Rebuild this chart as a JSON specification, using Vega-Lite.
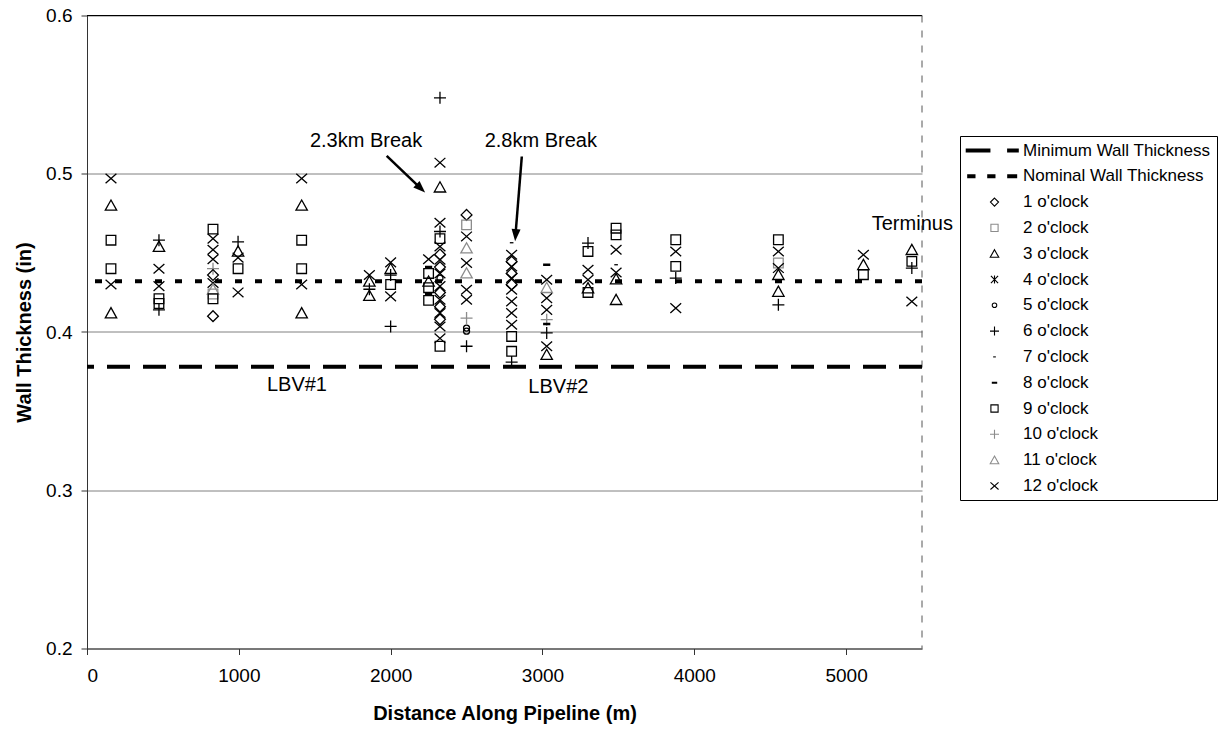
{
  "$schema": "https://vega.github.io/schema/vega-lite/v6.json",
  "width": 835,
  "height": 633,
  "autosize": {"type": "none"},
  "padding": {"left": 87, "top": 15.5, "right": 302, "bottom": 82.5},
  "background": "white",
  "config": {
    "view": {"stroke": null},
    "font": "Liberation Sans",
    "axis": {
      "labelFont": "Liberation Sans", "labelFontSize": 19, "labelColor": "#000",
      "titleFont": "Liberation Sans", "titleFontSize": 20, "titleFontWeight": "bold", "titleColor": "#000",
      "domainColor": "#333", "tickColor": "#333", "tickSize": 6
    },
    "legend": {
      "orient": "none", "legendX": 873, "legendY": 120.5,
      "strokeColor": "#000", "fillColor": "#fff", "padding": 6,
      "symbolOffset": 20, "labelOffset": 20,
      "labelFont": "Liberation Sans", "labelFontSize": 17, "labelColor": "#000",
      "symbolSize": 81, "symbolStrokeWidth": 1.1, "rowPadding": 7.8, "labelLimit": 400
    }
  },
  "datasets": {
    "pts": [
      {"d":158,"t":0.497,"c":"12 o'clock"},{"d":158,"t":0.480,"c":"3 o'clock"},{"d":158,"t":0.458,"c":"9 o'clock"},{"d":158,"t":0.440,"c":"9 o'clock"},{"d":158,"t":0.430,"c":"12 o'clock"},{"d":158,"t":0.412,"c":"3 o'clock"},
      {"d":474,"t":0.458,"c":"6 o'clock"},{"d":474,"t":0.454,"c":"3 o'clock"},{"d":474,"t":0.440,"c":"12 o'clock"},{"d":474,"t":0.429,"c":"12 o'clock"},{"d":474,"t":0.421,"c":"9 o'clock"},{"d":474,"t":0.418,"c":"9 o'clock"},{"d":474,"t":0.414,"c":"6 o'clock"},
      {"d":830,"t":0.465,"c":"9 o'clock"},{"d":830,"t":0.459,"c":"12 o'clock"},{"d":830,"t":0.452,"c":"12 o'clock"},{"d":830,"t":0.446,"c":"12 o'clock"},{"d":830,"t":0.440,"c":"10 o'clock"},{"d":830,"t":0.436,"c":"1 o'clock"},{"d":830,"t":0.431,"c":"12 o'clock"},{"d":830,"t":0.427,"c":"11 o'clock"},{"d":830,"t":0.424,"c":"2 o'clock"},{"d":830,"t":0.421,"c":"9 o'clock"},{"d":830,"t":0.410,"c":"1 o'clock"},
      {"d":995,"t":0.457,"c":"6 o'clock"},{"d":995,"t":0.451,"c":"3 o'clock"},{"d":995,"t":0.447,"c":"12 o'clock"},{"d":995,"t":0.440,"c":"9 o'clock"},{"d":995,"t":0.425,"c":"12 o'clock"},
      {"d":1414,"t":0.497,"c":"12 o'clock"},{"d":1414,"t":0.480,"c":"3 o'clock"},{"d":1414,"t":0.458,"c":"9 o'clock"},{"d":1414,"t":0.440,"c":"9 o'clock"},{"d":1414,"t":0.430,"c":"12 o'clock"},{"d":1414,"t":0.412,"c":"3 o'clock"},
      {"d":1860,"t":0.436,"c":"12 o'clock"},{"d":1860,"t":0.432,"c":"3 o'clock"},{"d":1860,"t":0.427,"c":"6 o'clock"},{"d":1860,"t":0.423,"c":"3 o'clock"},
      {"d":2000,"t":0.444,"c":"12 o'clock"},{"d":2000,"t":0.440,"c":"3 o'clock"},{"d":2000,"t":0.436,"c":"6 o'clock"},{"d":2000,"t":0.430,"c":"9 o'clock"},{"d":2000,"t":0.4225,"c":"12 o'clock"},{"d":2000,"t":0.4035,"c":"6 o'clock"},
      {"d":2250,"t":0.446,"c":"12 o'clock"},{"d":2250,"t":0.441,"c":"8 o'clock"},{"d":2250,"t":0.437,"c":"9 o'clock"},{"d":2250,"t":0.432,"c":"3 o'clock"},{"d":2250,"t":0.428,"c":"9 o'clock"},{"d":2250,"t":0.424,"c":"8 o'clock"},{"d":2250,"t":0.420,"c":"9 o'clock"},
      {"d":2325,"t":0.548,"c":"6 o'clock"},{"d":2325,"t":0.507,"c":"12 o'clock"},{"d":2325,"t":0.4915,"c":"3 o'clock"},{"d":2325,"t":0.469,"c":"12 o'clock"},{"d":2325,"t":0.4635,"c":"6 o'clock"},{"d":2325,"t":0.459,"c":"9 o'clock"},{"d":2325,"t":0.454,"c":"12 o'clock"},{"d":2325,"t":0.449,"c":"1 o'clock"},{"d":2325,"t":0.4457,"c":"12 o'clock"},{"d":2325,"t":0.441,"c":"1 o'clock"},{"d":2325,"t":0.437,"c":"12 o'clock"},{"d":2325,"t":0.434,"c":"5 o'clock"},{"d":2325,"t":0.429,"c":"12 o'clock"},{"d":2325,"t":0.425,"c":"1 o'clock"},{"d":2325,"t":0.4204,"c":"12 o'clock"},{"d":2325,"t":0.416,"c":"1 o'clock"},{"d":2325,"t":0.412,"c":"12 o'clock"},{"d":2325,"t":0.408,"c":"1 o'clock"},{"d":2325,"t":0.4035,"c":"12 o'clock"},{"d":2325,"t":0.396,"c":"12 o'clock"},{"d":2325,"t":0.391,"c":"9 o'clock"},
      {"d":2500,"t":0.474,"c":"1 o'clock"},{"d":2500,"t":0.4677,"c":"2 o'clock"},{"d":2500,"t":0.4604,"c":"12 o'clock"},{"d":2500,"t":0.453,"c":"11 o'clock"},{"d":2500,"t":0.4436,"c":"12 o'clock"},{"d":2500,"t":0.4372,"c":"11 o'clock"},{"d":2500,"t":0.4267,"c":"12 o'clock"},{"d":2500,"t":0.4204,"c":"12 o'clock"},{"d":2500,"t":0.4088,"c":"10 o'clock"},{"d":2500,"t":0.4025,"c":"5 o'clock"},{"d":2500,"t":0.4005,"c":"5 o'clock"},{"d":2500,"t":0.391,"c":"6 o'clock"},
      {"d":2797,"t":0.4564,"c":"7 o'clock"},{"d":2797,"t":0.4488,"c":"12 o'clock"},{"d":2797,"t":0.4445,"c":"1 o'clock"},{"d":2797,"t":0.4414,"c":"12 o'clock"},{"d":2797,"t":0.437,"c":"1 o'clock"},{"d":2797,"t":0.4341,"c":"12 o'clock"},{"d":2797,"t":0.430,"c":"1 o'clock"},{"d":2797,"t":0.4267,"c":"12 o'clock"},{"d":2797,"t":0.4193,"c":"12 o'clock"},{"d":2797,"t":0.412,"c":"12 o'clock"},{"d":2797,"t":0.4046,"c":"12 o'clock"},{"d":2797,"t":0.3972,"c":"9 o'clock"},{"d":2797,"t":0.3878,"c":"9 o'clock"},{"d":2797,"t":0.381,"c":"6 o'clock"},
      {"d":3028,"t":0.4425,"c":"8 o'clock"},{"d":3028,"t":0.433,"c":"12 o'clock"},{"d":3028,"t":0.428,"c":"11 o'clock"},{"d":3028,"t":0.4214,"c":"12 o'clock"},{"d":3028,"t":0.414,"c":"12 o'clock"},{"d":3028,"t":0.4078,"c":"10 o'clock"},{"d":3028,"t":0.405,"c":"8 o'clock"},{"d":3028,"t":0.3994,"c":"6 o'clock"},{"d":3028,"t":0.391,"c":"12 o'clock"},{"d":3028,"t":0.3857,"c":"3 o'clock"},
      {"d":3300,"t":0.4562,"c":"6 o'clock"},{"d":3300,"t":0.4509,"c":"9 o'clock"},{"d":3300,"t":0.4393,"c":"12 o'clock"},{"d":3300,"t":0.433,"c":"12 o'clock"},{"d":3300,"t":0.4278,"c":"3 o'clock"},{"d":3300,"t":0.425,"c":"9 o'clock"},
      {"d":3485,"t":0.4656,"c":"9 o'clock"},{"d":3485,"t":0.4614,"c":"9 o'clock"},{"d":3485,"t":0.452,"c":"12 o'clock"},{"d":3485,"t":0.4425,"c":"7 o'clock"},{"d":3485,"t":0.4376,"c":"12 o'clock"},{"d":3485,"t":0.4335,"c":"3 o'clock"},{"d":3485,"t":0.4204,"c":"3 o'clock"},
      {"d":3878,"t":0.4583,"c":"9 o'clock"},{"d":3878,"t":0.4509,"c":"12 o'clock"},{"d":3878,"t":0.4415,"c":"9 o'clock"},{"d":3878,"t":0.4341,"c":"6 o'clock"},{"d":3878,"t":0.4151,"c":"12 o'clock"},
      {"d":4554,"t":0.4583,"c":"9 o'clock"},{"d":4554,"t":0.4509,"c":"12 o'clock"},{"d":4554,"t":0.4436,"c":"2 o'clock"},{"d":4554,"t":0.4404,"c":"12 o'clock"},{"d":4554,"t":0.4362,"c":"3 o'clock"},{"d":4554,"t":0.4256,"c":"3 o'clock"},{"d":4554,"t":0.4172,"c":"6 o'clock"},
      {"d":5114,"t":0.4488,"c":"12 o'clock"},{"d":5114,"t":0.4425,"c":"3 o'clock"},{"d":5114,"t":0.4362,"c":"9 o'clock"},
      {"d":5433,"t":0.452,"c":"3 o'clock"},{"d":5433,"t":0.4446,"c":"9 o'clock"},{"d":5433,"t":0.4404,"c":"6 o'clock"},{"d":5433,"t":0.4193,"c":"12 o'clock"}
    ],
    "labels": [
      {"d": 1838, "t": 0.5172, "label": "2.3km Break"},
      {"d": 2989, "t": 0.5172, "label": "2.8km Break"},
      {"d": 1383, "t": 0.3625, "label": "LBV#1"},
      {"d": 3105, "t": 0.3615, "label": "LBV#2"}
    ]
  },
  "layer": [
    {
      "data": {"values": [{}]},
      "mark": {"type": "rule", "color": "#000", "strokeWidth": 1},
      "encoding": {"y": {"datum": 0.6, "type": "quantitative"}}
    },
    {
      "data": {"values": [{}]},
      "mark": {"type": "rule", "color": "#555", "strokeWidth": 1, "strokeDash": [7, 8]},
      "encoding": {"x": {"datum": 5500, "type": "quantitative"}}
    },
    {
      "data": {"values": [{}]},
      "mark": {"type": "rule", "color": "#000", "strokeWidth": 4, "strokeDash": [23, 13]},
      "encoding": {"y": {"datum": 0.378, "type": "quantitative"}}
    },
    {
      "data": {"values": [{}]},
      "mark": {"type": "rule", "color": "#000", "strokeWidth": 4, "strokeDash": [7, 13]},
      "encoding": {"y": {"datum": 0.432, "type": "quantitative"}}
    },
    {
      "data": {"name": "pts"},
      "mark": {"type": "point", "filled": false, "size": 144, "strokeWidth": 1.3, "opacity": 1},
      "encoding": {
        "x": {"field": "d", "type": "quantitative",
          "scale": {"domain": [0, 5500], "nice": false, "zero": false},
          "axis": {"values": [0, 1000, 2000, 3000, 4000, 5000], "format": "d", "title": "Distance Along Pipeline (m)", "grid": false, "labelPadding": 12, "titlePadding": 18}},
        "y": {"field": "t", "type": "quantitative",
          "scale": {"domain": [0.2, 0.6], "nice": false, "zero": false},
          "axis": {"values": [0.2, 0.3, 0.4, 0.5, 0.6], "format": ".1f", "title": "Wall Thickness (in)", "grid": true, "gridColor": "#808080", "gridWidth": 1, "labelPadding": 9, "titlePadding": 11}},
        "color": {"field": "c", "type": "nominal",
          "scale": {
            "domain": ["Minimum Wall Thickness", "Nominal Wall Thickness", "1 o'clock", "2 o'clock", "3 o'clock", "4 o'clock", "5 o'clock", "6 o'clock", "7 o'clock", "8 o'clock", "9 o'clock", "10 o'clock", "11 o'clock", "12 o'clock"],
            "range": ["#000", "#000", "#000", "#8c8c8c", "#000", "#000", "#000", "#000", "#000", "#000", "#000", "#8c8c8c", "#8c8c8c", "#000"]
          },
          "legend": {"title": null}},
        "shape": {"field": "c", "type": "nominal",
          "scale": {
            "domain": ["Minimum Wall Thickness", "Nominal Wall Thickness", "1 o'clock", "2 o'clock", "3 o'clock", "4 o'clock", "5 o'clock", "6 o'clock", "7 o'clock", "8 o'clock", "9 o'clock", "10 o'clock", "11 o'clock", "12 o'clock"],
            "range": [
              "M-6.4,-0.33H-0.9M-6.4,-0.11H-0.9M-6.4,0.11H-0.9M-6.4,0.33H-0.9M2.8,-0.33H5.4M2.8,-0.11H5.4M2.8,0.11H5.4M2.8,0.33H5.4",
              "M-6.07,-0.33H-4.22M-6.07,-0.11H-4.22M-6.07,0.11H-4.22M-6.07,0.33H-4.22M-1.62,-0.33H0.22M-1.62,-0.11H0.22M-1.62,0.11H0.22M-1.62,0.33H0.22M2.82,-0.33H5.04M2.82,-0.11H5.04M2.82,0.11H5.04M2.82,0.33H5.04",
              "M0,-0.9L0.9,0L0,0.9L-0.9,0Z",
              "M-0.8,-0.8H0.8V0.8H-0.8Z",
              "M0,-0.9L0.95,0.8H-0.95Z",
              "M-0.8,-0.8L0.8,0.8M-0.8,0.8L0.8,-0.8M0,-0.9V0.9",
              "M-0.5,0A0.5,0.5 0 1,0 0.5,0A0.5,0.5 0 1,0 -0.5,0Z",
              "M-1,0H1M0,-1V1",
              "M-0.3,0H0.3",
              "M-0.6,-0.1H0.6M-0.6,0.1H0.6",
              "M-0.8,-0.8H0.8V0.8H-0.8Z",
              "M-1,0H1M0,-1V1",
              "M0,-0.9L0.95,0.8H-0.95Z",
              "M-0.9,-0.8L0.9,0.8M-0.9,0.8L0.9,-0.8"
            ]
          },
          "legend": {"title": null}}
      }
    },
    {
      "data": {"values": [{"d": 1974, "t": 0.5113, "d2": 2198, "t2": 0.4908}, {"d": 2864, "t": 0.5109, "d2": 2823, "t2": 0.4621}]},
      "mark": {"type": "rule", "color": "#000", "strokeWidth": 2.5},
      "encoding": {
        "x": {"field": "d", "type": "quantitative"}, "y": {"field": "t", "type": "quantitative"},
        "x2": {"field": "d2"}, "y2": {"field": "t2"}
      }
    },
    {
      "data": {"values": [{"d": 2227, "t": 0.4881}]},
      "mark": {"type": "point", "filled": true, "color": "#000", "opacity": 1, "size": 144, "angle": 43.8, "shape": "M0,0L-2,-0.75L-2,0.75Z"},
      "encoding": {"x": {"field": "d", "type": "quantitative"}, "y": {"field": "t", "type": "quantitative"}}
    },
    {
      "data": {"values": [{"d": 2820, "t": 0.4574}]},
      "mark": {"type": "point", "filled": true, "color": "#000", "opacity": 1, "size": 144, "angle": 94.6, "shape": "M0,0L-2,-0.75L-2,0.75Z"},
      "encoding": {"x": {"field": "d", "type": "quantitative"}, "y": {"field": "t", "type": "quantitative"}}
    },
    {
      "data": {"name": "labels"},
      "mark": {"type": "text", "font": "Liberation Sans", "fontSize": 20, "color": "#000", "align": "center", "baseline": "alphabetic"},
      "encoding": {"x": {"field": "d", "type": "quantitative"}, "y": {"field": "t", "type": "quantitative"}, "text": {"field": "label"}}
    },
    {
      "data": {"values": [{"d": 5169, "t": 0.4646, "label": "Terminus"}]},
      "mark": {"type": "text", "font": "Liberation Sans", "fontSize": 20, "color": "#000", "align": "left", "baseline": "alphabetic"},
      "encoding": {"x": {"field": "d", "type": "quantitative"}, "y": {"field": "t", "type": "quantitative"}, "text": {"field": "label"}}
    }
  ]
}
